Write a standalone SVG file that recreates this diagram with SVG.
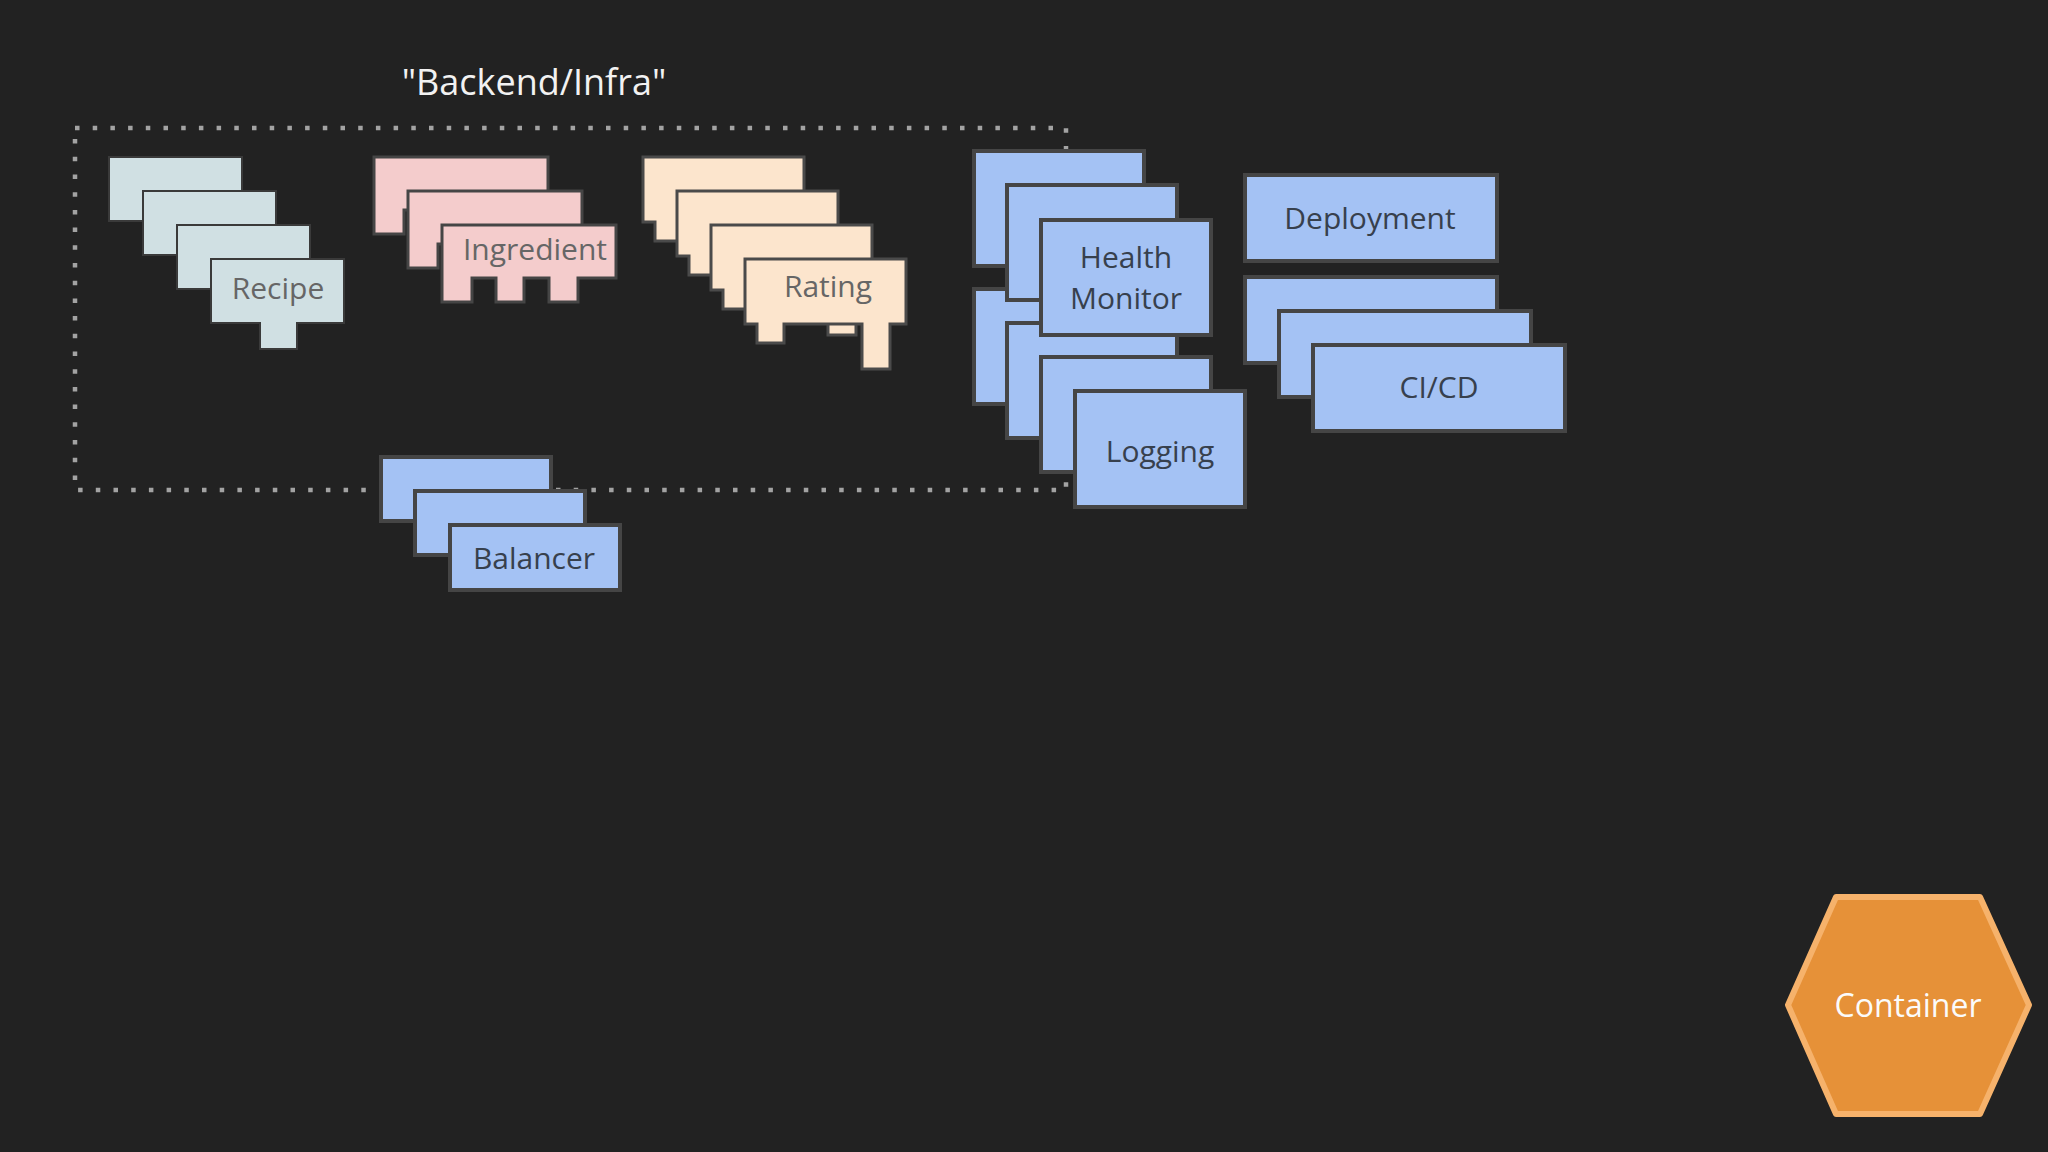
<svg xmlns="http://www.w3.org/2000/svg" width="2048" height="1152" viewBox="0 0 2048 1152">
<style>
  .bg { fill: #222222; }
  .boundary { fill: none; stroke: #a3a3a3; stroke-width: 4.5; stroke-dasharray: 4.5 13.2; }
  .title { font-family: "Open Sans", "Noto Sans", "Liberation Sans", sans-serif; font-size: 36px; fill: #f2f2f2; text-anchor: middle; }
  .lbl { font-family: "Open Sans", "Noto Sans", "Liberation Sans", sans-serif; font-size: 30px; text-anchor: middle; }
  .recipe { fill: #d0e0e3; stroke: #3a3a3a; stroke-width: 2; }
  .ingr { fill: #f4cccc; stroke: #454545; stroke-width: 3; }
  .rating { fill: #fce5cd; stroke: #4a4a4a; stroke-width: 3; }
  .blue { fill: #a4c2f4; stroke: #454545; stroke-width: 4; }
  .gray { fill: #666666; }
  .dark { fill: #37404d; }
  .hex { fill: #e69138; stroke: #f6b26b; stroke-width: 6; stroke-linejoin: round; }
  .white { fill: #fbfbfb; }
</style>
<defs>
  <path id="recipeShape" d="M0,0 h133 v64 h-47 v26 h-37 v-26 h-49 z"/>
  <path id="ingrShape" d="M0,0 h174 v53 h-38 v24 h-29 v-24 h-25 v24 h-28 v-24 h-24 v24 h-30 z"/>
  <path id="ratingShape" d="M0,0 h161 v65 h-16 v45 h-28 v-45 h-78 v19 h-27 v-19 h-12 z"/>
</defs>
<rect class="bg" x="0" y="0" width="2048" height="1152"/>

<g id="backend-infra">
  <rect class="boundary" x="75" y="128" width="991" height="362"/>
  <text class="title" x="534" y="95">"Backend/Infra"</text>
</g>

<g id="recipe">
  <use href="#recipeShape" class="recipe" x="109" y="157"/>
  <use href="#recipeShape" class="recipe" x="143" y="191"/>
  <use href="#recipeShape" class="recipe" x="177" y="225"/>
  <use href="#recipeShape" class="recipe" x="211" y="259"/>
  <text class="lbl gray" x="278" y="299">Recipe</text>
</g>

<g id="ingredient">
  <use href="#ingrShape" class="ingr" x="374" y="157"/>
  <use href="#ingrShape" class="ingr" x="408" y="191"/>
  <use href="#ingrShape" class="ingr" x="442" y="225"/>
  <text class="lbl gray" x="535" y="260">Ingredient</text>
</g>

<g id="rating">
  <use href="#ratingShape" class="rating" x="643" y="157"/>
  <use href="#ratingShape" class="rating" x="677" y="191"/>
  <use href="#ratingShape" class="rating" x="711" y="225"/>
  <use href="#ratingShape" class="rating" x="745" y="259"/>
  <text class="lbl gray" x="828" y="297">Rating</text>
</g>

<g id="balancer">
  <rect class="blue" x="381" y="457" width="170" height="64"/>
  <rect class="blue" x="415" y="491" width="170" height="64"/>
  <rect class="blue" x="450" y="525" width="170" height="65"/>
  <text class="lbl dark" x="534" y="569">Balancer</text>
</g>

<g id="logging">
  <rect class="blue" x="974" y="289" width="170" height="115"/>
  <rect class="blue" x="1007" y="323" width="170" height="115"/>
  <rect class="blue" x="1041" y="357" width="170" height="115"/>
  <rect class="blue" x="1075" y="391" width="170" height="116"/>
  <text class="lbl dark" x="1160" y="462">Logging</text>
</g>

<g id="health-monitor">
  <rect class="blue" x="974" y="151" width="170" height="115"/>
  <rect class="blue" x="1007" y="185" width="170" height="115"/>
  <rect class="blue" x="1041" y="220" width="170" height="115"/>
  <text class="lbl dark" x="1126" y="268">Health</text>
  <text class="lbl dark" x="1126" y="309">Monitor</text>
</g>

<g id="deployment">
  <rect class="blue" x="1245" y="175" width="252" height="86"/>
  <text class="lbl dark" x="1370" y="229">Deployment</text>
</g>

<g id="ci-cd">
  <rect class="blue" x="1245" y="277" width="252" height="86"/>
  <rect class="blue" x="1279" y="311" width="252" height="86"/>
  <rect class="blue" x="1313" y="345" width="252" height="86"/>
  <text class="lbl dark" x="1439" y="398">CI/CD</text>
</g>

<g id="container">
  <polygon class="hex" points="1788,1005 1836,897 1980,897 2029,1005 1980,1114 1836,1114"/>
  <text class="lbl white" x="1908" y="1017" style="font-size:32px">Container</text>
</g>

<g id="connectors"></g>
</svg>
